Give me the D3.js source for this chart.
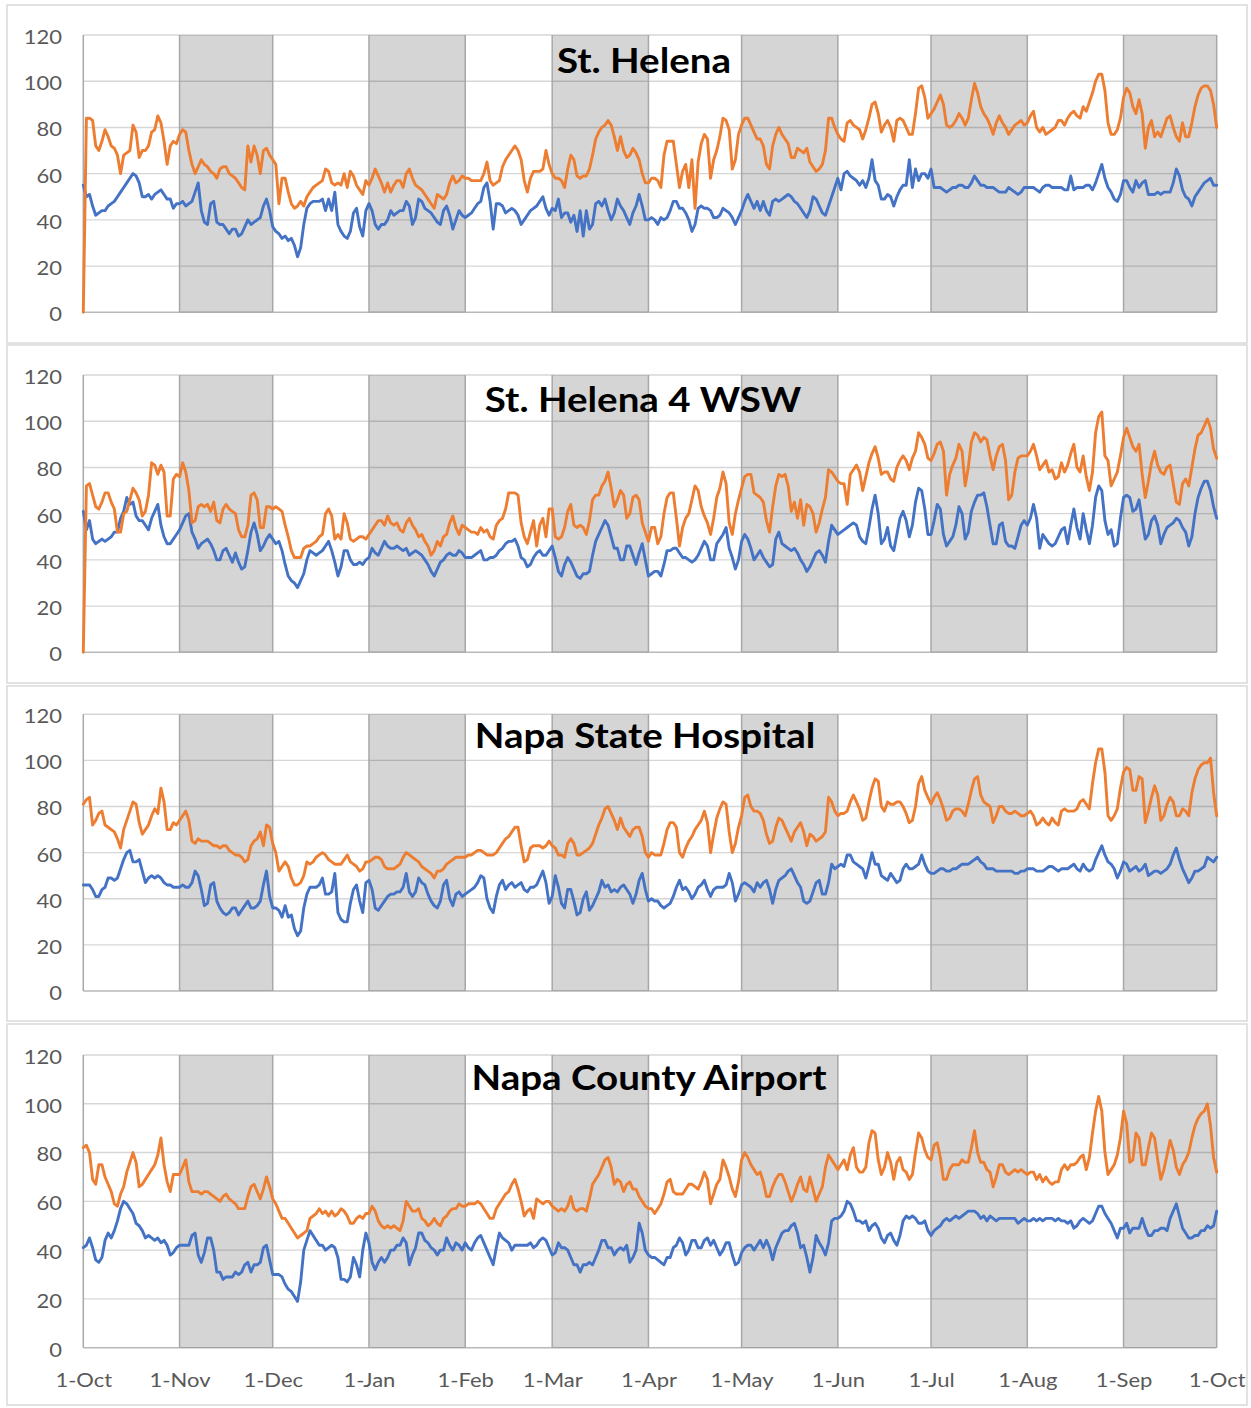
<!DOCTYPE html>
<html>
<head>
<meta charset="utf-8">
<script src="https://cdn.jsdelivr.net/npm/d3@7"></script>
<style>
  html, body { margin: 0; padding: 0; background: #fff; }
  svg { display: block; }
  text { font-family: Lato, "Open Sans", sans-serif; }
</style>
</head>
<body>
<svg id="chart" width="1251" height="1408"></svg>
<script>
// Daily maximum and minimum temperatures (°F), one value per day from 1-Oct to the following 1-Oct.
const stations = ["St. Helena", "St. Helena 4 WSW", "Napa State Hospital", "Napa County Airport"];
const yTicks = [0, 20, 40, 60, 80, 100, 120];
const monthLabels = ["1-Oct", "1-Nov", "1-Dec", "1-Jan", "1-Feb", "1-Mar", "1-Apr", "1-May", "1-Jun", "1-Jul", "1-Aug", "1-Sep", "1-Oct"];

const stHelenaHigh = [
  0,84,84,83,72,70,74,79,76,72,71,68,60,68,69,70,81,78,67,70,70,72,78,79,85,82,74,64,72,74,73,
  77,79,78,70,64,60,63,66,64,63,61,60,58,62,63,63,60,59,58,56,54,53,72,65,72,68,60,70,71,68,
  66,64,47,58,58,52,47,45,46,48,46,50,52,54,55,56,57,62,61,56,55,56,55,60,54,61,59,55,53,51,57,
  55,58,62,59,56,52,56,52,55,57,57,54,60,62,58,55,54,53,51,49,47,45,51,50,49,51,56,59,56,57,59,
  58,58,57,57,57,57,60,65,57,55,56,57,63,66,68,70,72,70,66,57,52,58,61,61,61,62,70,64,
  60,58,58,57,54,62,68,66,59,58,59,59,62,68,75,78,80,81,83,81,76,70,76,70,67,68,71,69,66,60,56,
  56,58,58,57,54,68,74,74,74,64,54,61,64,54,66,45,65,73,77,75,58,66,70,76,84,83,79,62,66,77,
  81,84,84,81,78,75,75,72,64,62,72,77,80,77,75,73,67,67,71,70,69,71,65,63,61,62,64,70,84,84,80,
  77,75,74,82,83,81,80,79,75,79,84,90,91,86,78,81,83,80,74,83,84,83,80,77,77,86,97,98,93,84,
  86,88,91,94,90,81,80,81,83,86,84,81,84,92,99,95,89,86,84,81,77,82,85,82,80,77,79,81,82,83,81,
  82,85,87,80,78,80,77,78,79,80,83,83,81,84,86,87,85,84,89,87,91,95,100,103,103,96,82,77,77,79,84,
  93,97,95,89,86,92,86,71,80,83,76,78,76,80,84,85,80,76,74,82,76,76,82,89,94,97,98,98,96,90,80
];
const stHelenaLow = [
  55,50,51,46,42,43,44,44,46,47,48,50,52,54,56,58,60,59,56,50,50,51,49,51,52,53,51,49,49,45,47,
  47,48,46,47,48,52,56,44,39,38,47,48,39,38,38,36,34,36,36,33,34,37,40,38,39,40,41,46,49,44,
  37,35,34,32,33,31,32,29,24,28,38,45,47,48,48,48,49,44,49,44,52,38,35,33,32,35,43,45,37,33,44,
  47,44,38,36,38,38,40,44,42,43,44,44,48,46,38,41,49,48,45,44,43,41,39,38,44,46,42,36,40,44,42,
  41,42,43,45,47,48,54,56,48,36,47,47,46,43,44,45,44,42,38,40,42,44,45,46,48,50,45,42,
  45,44,49,41,43,43,39,42,35,44,33,44,36,38,47,48,46,49,44,40,43,49,46,44,41,38,43,46,51,46,40,
  40,41,40,38,41,40,41,44,48,48,45,45,43,40,35,38,45,46,45,45,44,41,41,42,45,44,43,41,38,41,
  44,48,51,48,45,48,44,48,44,42,48,49,48,49,50,51,50,48,47,45,43,41,44,50,49,46,43,42,46,50,54,
  58,53,60,61,59,58,57,55,57,54,58,66,57,55,49,49,51,50,46,50,53,55,55,66,54,62,57,60,60,58,
  62,54,54,54,53,52,53,54,54,55,55,54,54,56,59,57,55,55,54,54,54,53,52,52,52,54,53,52,51,52,54,
  54,54,54,53,52,54,55,55,54,54,54,54,53,53,59,53,54,54,54,55,55,53,56,60,64,58,54,52,49,48,51,
  57,57,54,52,57,54,56,57,51,51,51,52,51,52,52,52,56,62,59,53,50,49,46,50,52,54,56,57,58,55,55
];
const wswHigh = [
  0,72,73,68,63,62,65,69,69,65,62,52,52,60,61,66,71,69,66,59,61,68,82,81,77,81,78,59,59,75,77,
  76,82,78,70,56,57,63,64,63,64,61,65,57,56,62,64,62,61,60,53,50,50,55,68,69,66,54,54,63,63,
  62,63,62,61,55,50,44,41,41,41,45,46,46,47,48,50,51,60,62,59,49,51,49,60,56,49,48,49,50,50,49,
  51,53,55,57,57,55,59,56,55,56,53,52,56,58,55,53,50,51,48,46,42,44,48,46,50,51,56,59,54,51,55,
  54,53,52,52,51,54,52,53,50,49,55,57,58,62,69,69,69,68,56,50,47,52,57,46,55,58,50,62,
  62,50,49,50,54,61,64,55,54,55,54,51,57,66,68,68,72,74,78,71,63,66,70,68,58,60,67,68,66,56,52,
  48,54,54,47,50,60,67,69,69,58,46,54,58,60,66,72,70,63,59,56,51,58,67,71,78,73,56,51,60,66,
  71,76,77,77,69,68,67,65,57,52,63,72,77,76,77,72,61,65,58,66,55,64,63,60,52,56,62,67,79,78,76,
  74,73,73,64,77,79,81,78,70,76,82,86,89,84,77,78,78,75,74,80,83,85,83,79,84,87,95,93,90,84,
  83,86,90,91,87,68,77,81,84,90,87,72,80,91,95,94,91,93,92,85,79,85,89,90,83,66,68,78,84,85,85,
  85,87,90,85,79,81,83,78,79,75,76,82,78,81,86,90,80,78,85,76,70,78,95,102,104,85,83,72,75,78,85,
  93,97,93,89,87,90,77,67,74,82,87,81,78,77,80,81,73,65,64,73,75,72,80,88,94,95,98,101,97,88,84
];
const wswLow = [
  61,53,57,49,47,48,49,48,49,50,52,52,58,61,67,64,65,59,57,57,55,53,58,61,64,55,50,47,47,49,51,
  53,56,59,60,52,49,45,47,48,49,47,44,40,40,44,45,42,39,43,39,36,37,44,52,56,51,44,46,49,51,
  49,47,48,44,38,33,31,30,28,31,34,40,44,43,42,43,44,46,48,44,39,33,37,44,44,40,38,38,39,38,40,
  41,45,43,42,45,48,46,45,45,46,45,44,45,42,43,44,43,42,40,38,35,33,36,39,40,42,43,42,42,44,43,
  41,41,41,42,43,44,40,40,41,41,42,44,45,47,48,48,49,46,41,40,37,38,41,43,44,42,42,44,
  46,41,35,33,38,41,39,36,33,32,34,34,35,42,48,51,54,57,55,50,45,45,40,40,46,46,42,38,43,47,40,
  33,34,35,35,33,38,44,44,45,45,43,41,41,40,39,40,42,45,48,46,40,40,47,49,51,54,45,41,36,40,
  48,51,49,45,40,42,44,41,39,37,38,49,52,47,46,45,44,45,43,40,38,35,37,40,43,44,42,39,48,55,53,
  51,52,53,54,55,56,55,50,48,47,54,62,68,60,47,49,54,46,44,51,58,61,57,50,55,65,71,70,62,51,
  51,57,64,62,51,46,48,50,55,63,60,49,52,61,65,68,68,69,63,55,47,47,55,56,48,46,46,45,50,55,57,
  55,58,64,58,45,51,49,47,46,47,50,53,54,47,55,62,54,49,60,53,47,55,67,72,70,57,51,53,46,47,58,
  67,68,67,61,62,66,57,49,51,57,59,55,47,51,54,55,56,58,57,54,52,46,50,60,67,71,74,74,70,63,58
];
const napaStateHigh = [
  81,83,84,72,74,77,78,72,71,70,69,66,62,70,74,78,82,81,73,68,70,72,76,79,77,88,82,70,70,73,72,
  74,76,78,74,65,64,66,65,65,65,64,63,63,62,63,63,61,60,59,59,58,56,57,63,65,66,69,63,72,71,
  64,60,52,54,56,54,49,46,46,47,50,56,55,56,58,59,60,59,57,56,55,55,55,57,59,56,55,54,52,53,56,
  56,57,58,58,57,54,53,53,53,54,55,58,60,59,58,57,56,54,53,52,51,49,52,52,53,55,56,57,58,58,58,
  58,59,59,60,61,61,60,59,59,59,60,62,64,66,67,69,71,71,63,56,57,62,63,63,63,62,63,65,
  63,62,59,59,58,64,66,64,59,59,60,61,62,64,68,72,75,79,80,77,74,70,75,71,69,67,70,71,71,67,60,
  58,60,59,59,59,64,70,73,73,71,60,58,62,65,67,70,72,74,78,73,60,68,75,79,82,81,69,60,64,71,
  76,84,85,80,78,78,77,74,68,64,65,71,75,74,71,68,65,69,71,73,69,63,68,67,65,66,67,69,84,82,78,
  76,77,77,78,82,85,82,79,74,75,82,88,92,91,80,78,82,81,81,82,82,80,77,73,74,80,90,93,87,84,
  81,84,86,83,79,74,75,78,79,79,78,76,81,87,92,93,85,82,81,80,73,76,80,80,78,77,77,78,77,76,76,
  77,78,76,72,73,75,73,72,75,73,72,78,79,78,78,78,79,82,83,81,79,90,99,105,105,95,76,74,76,79,88,
  95,97,96,87,87,93,92,73,78,84,89,85,74,76,81,84,82,76,76,79,78,76,86,92,96,98,99,99,101,86,76
];
const napaStateLow = [
  46,46,46,44,41,41,44,45,49,49,48,49,53,57,60,61,56,56,57,52,47,49,50,49,50,49,47,46,46,45,45,
  45,46,45,45,47,52,50,44,37,38,46,47,39,36,34,33,34,36,36,33,35,37,39,36,36,37,39,46,52,41,
  36,36,35,32,37,32,33,27,24,26,36,42,45,45,45,46,49,42,42,43,51,34,31,30,30,38,44,46,39,34,47,
  48,44,36,35,37,39,41,42,42,43,43,45,51,43,41,43,49,47,46,42,39,37,36,39,46,48,40,37,42,43,41,
  42,43,44,45,47,50,49,40,36,34,41,46,48,44,46,47,45,46,47,44,43,45,45,46,49,52,47,38,
  41,50,45,38,36,44,44,39,33,34,40,43,35,37,40,43,48,45,46,43,44,43,45,46,44,42,38,42,48,51,44,
  39,40,39,39,37,36,37,38,41,45,48,44,45,43,40,42,45,46,48,44,41,44,45,45,45,46,51,47,39,42,
  46,47,46,45,43,47,45,47,48,44,38,44,48,49,50,52,53,50,47,45,39,38,39,43,47,48,42,42,47,55,53,
  54,55,54,59,59,56,55,54,53,49,54,60,55,55,50,49,48,51,49,47,48,53,55,53,53,54,55,59,55,52,
  51,51,52,53,53,52,52,53,53,54,55,55,55,56,57,58,56,55,53,53,53,52,52,52,52,52,52,51,51,52,52,
  53,53,53,52,52,52,53,54,54,53,52,53,53,53,54,55,53,52,55,53,52,53,57,60,63,59,56,55,53,49,52,
  56,55,52,53,54,52,53,55,50,51,52,52,51,52,53,55,59,62,57,53,50,47,49,52,52,53,54,58,57,56,58
];
const airportHigh = [
  82,83,80,69,67,75,75,70,67,64,59,58,63,66,72,76,80,76,66,67,69,71,73,75,79,86,75,68,64,71,71,
  71,74,77,68,64,64,64,63,64,64,63,62,61,60,62,63,61,60,59,57,57,57,62,66,67,64,61,65,70,66,
  61,59,56,53,53,51,49,47,45,46,47,48,53,54,55,57,55,56,54,56,54,55,57,56,54,51,51,53,54,53,55,
  55,58,56,52,50,49,50,49,50,49,48,52,60,58,56,56,57,53,52,50,51,53,51,50,53,54,56,57,57,59,58,
  58,59,59,59,60,59,57,55,53,53,57,59,61,63,64,67,69,65,60,54,56,57,53,61,60,59,60,60,
  58,57,56,57,56,58,62,57,56,57,57,56,61,67,69,71,74,77,78,74,67,69,68,64,67,68,65,65,62,60,58,
  57,57,55,57,59,63,68,69,64,63,63,63,65,67,67,66,65,68,72,69,59,63,67,69,77,74,70,65,62,68,
  77,80,78,75,73,71,72,68,62,62,66,69,71,71,68,64,60,63,67,70,65,64,70,65,60,63,66,74,79,77,75,
  73,75,77,73,79,82,74,72,72,74,84,89,88,77,71,74,80,76,69,76,78,73,72,69,71,80,88,86,81,78,
  77,83,84,78,69,69,73,75,75,75,77,76,76,82,89,80,76,76,73,72,66,70,75,75,72,71,72,73,72,73,72,
  71,72,72,69,71,68,70,68,67,68,68,73,75,73,75,75,76,78,79,73,78,88,97,103,97,80,71,73,75,79,86,
  97,92,76,77,88,86,75,75,82,88,86,77,69,73,79,85,81,74,71,75,77,80,86,91,94,96,97,100,91,78,72
];
const airportLow = [
  41,42,45,41,36,35,37,44,47,45,48,52,57,60,59,57,55,51,50,48,45,46,45,44,45,43,44,42,38,39,41,
  42,42,42,42,46,47,38,35,39,45,45,40,31,31,28,29,29,29,31,30,31,34,35,31,34,34,35,41,42,36,
  30,30,30,29,26,24,23,21,19,27,40,44,48,46,44,42,42,40,41,42,41,37,28,28,27,29,37,34,29,40,47,
  43,35,32,35,37,35,37,40,40,42,42,45,43,34,38,41,47,47,44,43,41,40,38,40,40,45,42,40,43,42,40,
  43,41,40,43,45,46,43,40,37,34,41,47,45,44,43,40,42,42,42,42,42,43,41,42,44,45,44,41,
  38,39,43,41,41,40,37,34,34,31,34,34,35,34,37,40,44,44,41,41,38,40,41,40,42,35,37,40,51,47,40,
  38,37,37,36,35,34,37,37,41,42,45,43,38,40,44,44,41,41,44,45,42,44,41,38,40,43,43,38,34,35,
  39,41,42,42,40,42,44,41,44,41,36,41,44,47,48,48,50,51,47,41,42,37,31,37,46,43,41,38,43,52,53,
  53,54,56,60,59,56,52,52,51,52,48,50,51,49,45,43,46,47,44,42,46,52,54,53,54,53,51,51,52,48,
  46,48,49,50,52,53,52,53,54,53,54,55,56,56,56,55,53,54,52,54,53,52,53,53,53,53,53,53,51,52,53,
  52,52,53,52,53,52,53,53,53,52,53,52,52,51,52,49,50,52,53,52,51,52,55,58,58,55,53,51,48,45,49,
  49,51,47,49,49,49,53,49,46,46,48,48,49,49,48,53,56,59,54,49,47,45,45,46,46,48,48,50,49,50,56
];

// ---- layout ----
const svg = d3.select("#chart");
const W = 1251, H = 1408;
svg.append("rect").attr("width", W).attr("height", H).attr("fill", "#fff");

const startDay = new Date(Date.UTC(2017, 9, 1));
const endDay = new Date(Date.UTC(2018, 9, 1));
const monthStarts = d3.utcMonth.range(startDay, d3.utcDay.offset(endDay, 1));
const dayOf = i => d3.utcDay.offset(startDay, i);

const plotLeft = 83.3, plotRight = 1216.7;
const x = d3.scaleUtc().domain([startDay, endDay]).range([plotLeft, plotRight]);

const ORANGE = "#ED7D31", BLUE = "#4472C4";
const STRETCH = 1.1; // labels are set slightly wide

const panels = [
  { name: stations[0], high: stHelenaHigh, low: stHelenaLow, frame: [5, 343], plot: [35, 312.3], title: [644, 72.7] },
  { name: stations[1], high: wswHigh, low: wswLow, frame: [345, 683], plot: [375, 652.3], title: [643, 411.7] },
  { name: stations[2], high: napaStateHigh, low: napaStateLow, frame: [686, 1021], plot: [714.3, 991], title: [645, 748] },
  { name: stations[3], high: airportHigh, low: airportLow, frame: [1024, 1405], plot: [1055, 1347.7], title: [649, 1090], xAxis: true }
];

panels.forEach(p => {
  const g = svg.append("g");
  const [top, bottom] = p.plot;
  const y = d3.scaleLinear().domain([0, 120]).range([bottom, top]);

  // panel frame
  g.append("rect")
    .attr("x", 7).attr("y", p.frame[0])
    .attr("width", 1240).attr("height", p.frame[1] - p.frame[0])
    .attr("fill", "#fff").attr("stroke", "#d9d9d9").attr("stroke-width", 1.5);

  // shaded alternate months (Nov, Jan, Mar, May, Jul, Sep)
  const bands = d3.range(1, 12, 2);
  g.append("g").selectAll("rect").data(bands).join("rect")
    .attr("x", i => x(monthStarts[i]))
    .attr("width", i => x(monthStarts[i + 1]) - x(monthStarts[i]))
    .attr("y", top).attr("height", bottom - top)
    .attr("fill", "#d5d5d5");

  // horizontal gridlines
  g.append("g").selectAll("line").data(yTicks).join("line")
    .attr("x1", plotLeft).attr("x2", plotRight)
    .attr("y1", d => y(d)).attr("y2", d => y(d))
    .attr("stroke", "#000").attr("stroke-opacity", d => d === 0 ? 0.28 : 0.16)
    .attr("stroke-width", 1.4);

  // month boundaries
  g.append("g").selectAll("line").data(monthStarts).join("line")
    .attr("x1", d => x(d)).attr("x2", d => x(d))
    .attr("y1", top).attr("y2", bottom)
    .attr("stroke", "#a8a8a8").attr("stroke-width", 1.5);

  // series
  const line = d3.line().x((v, i) => x(dayOf(i))).y(v => y(v));
  g.append("path").datum(p.low).attr("d", line)
    .attr("fill", "none").attr("stroke", BLUE).attr("stroke-width", 2.9)
    .attr("stroke-linejoin", "round").attr("stroke-linecap", "round");
  g.append("path").datum(p.high).attr("d", line)
    .attr("fill", "none").attr("stroke", ORANGE).attr("stroke-width", 2.9)
    .attr("stroke-linejoin", "round").attr("stroke-linecap", "round");

  // y axis labels
  const yAxis = g.append("g").attr("transform", `translate(${plotLeft},0)`)
    .call(d3.axisLeft(y).tickValues(yTicks).tickSize(0).tickPadding(21.3));
  yAxis.select(".domain").remove();
  yAxis.selectAll("text")
    .attr("x", -21.3 / STRETCH).attr("dy", "0.42em")
    .attr("transform", `scale(${STRETCH},1)`)
    .attr("fill", "#595959").style("font-size", "20px")
    .style("font-family", "Lato, 'Open Sans', sans-serif");

  // station title
  g.append("g").attr("transform", `translate(${p.title[0]},${p.title[1]}) scale(${STRETCH},1)`)
    .append("text").attr("text-anchor", "middle")
    .style("font-size", "35px").style("font-weight", 700).attr("fill", "#000")
    .text(p.name);

  if (p.xAxis) {
    const xAxis = g.append("g").attr("transform", `translate(0,${bottom})`)
      .call(d3.axisBottom(x).tickValues(monthStarts).tickFormat((d, i) => monthLabels[i])
        .tickSize(0).tickPadding(24.8));
    xAxis.select(".domain").remove();
    xAxis.selectAll("text")
      .attr("transform", `scale(${STRETCH},1)`)
      .attr("fill", "#595959").style("font-size", "20px")
      .style("font-family", "Lato, 'Open Sans', sans-serif");
  }
});
</script>
</body>
</html>
